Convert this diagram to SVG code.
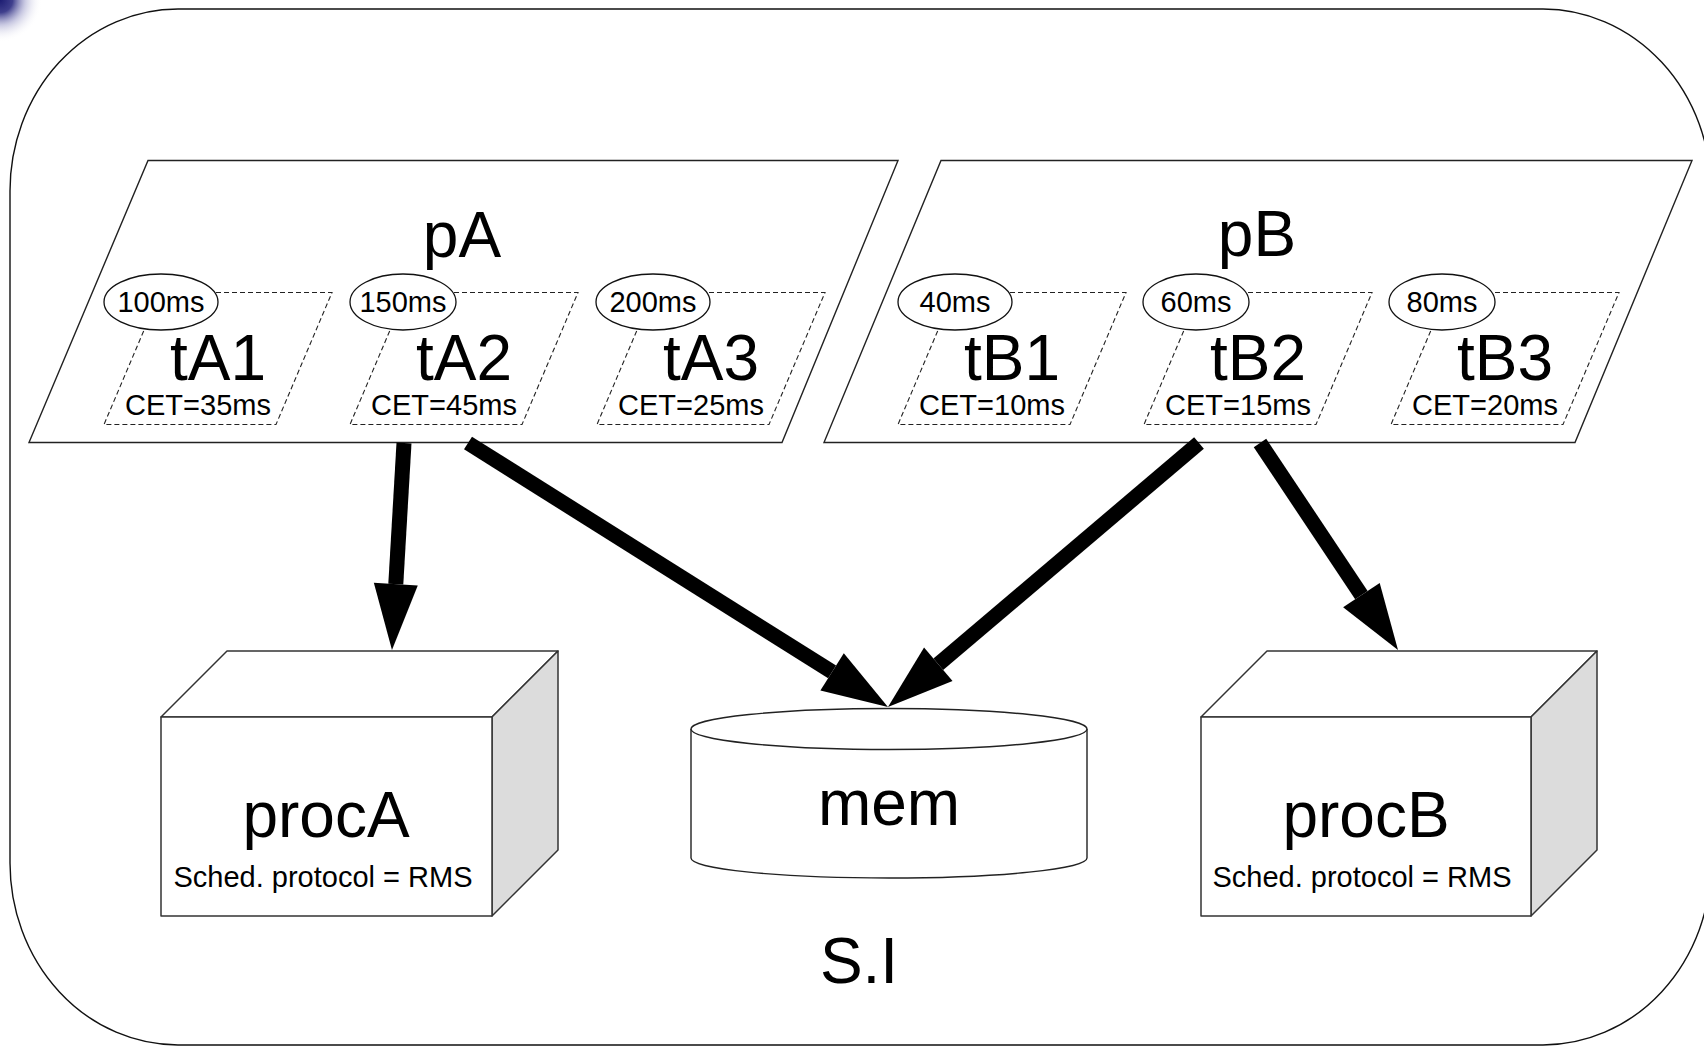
<svg xmlns="http://www.w3.org/2000/svg" width="1704" height="1047" viewBox="0 0 1704 1047">
  <defs>
    <radialGradient id="corner-glow" cx="0" cy="0" r="1" gradientUnits="objectBoundingBox">
      <stop offset="0" stop-color="#1c1c72"/>
      <stop offset="0.3" stop-color="#2a2a80" stop-opacity="0.9"/>
      <stop offset="0.6" stop-color="#8a8ac0" stop-opacity="0.45"/>
      <stop offset="1" stop-color="#ffffff" stop-opacity="0"/>
    </radialGradient>
    <marker id="head" markerUnits="userSpaceOnUse" markerWidth="66" markerHeight="44" refX="0" refY="22" orient="auto" overflow="visible">
      <path d="M0,0 L66,22 L0,44 Z" fill="#000"/>
    </marker>
    <style>
      text { font-family: "Liberation Sans", Arial, sans-serif; fill: #000; text-anchor: middle; }
      .big { font-size: 64px; }
      .small { font-size: 29px; }
      .frame { fill: #fff; stroke: #111; stroke-width: 1.4; }
      .proc { fill: #fff; stroke: #222; stroke-width: 1.4; }
      .task { fill: none; stroke: #222; stroke-width: 1.1; stroke-dasharray: 5 3; }
      .period { fill: #fff; stroke: #111; stroke-width: 1.3; }
      .box { fill: #fff; stroke: #333; stroke-width: 1.5; stroke-linejoin: round; }
      .side { fill: #dcdcdc; stroke: #333; stroke-width: 1.5; stroke-linejoin: round; }
      .cyl { fill: #fff; stroke: #222; stroke-width: 1.4; }
      .edge { stroke: #000; stroke-width: 15; fill: none; marker-end: url(#head); }
    </style>
  </defs>

  <rect width="1704" height="1047" fill="#fff"/>
  <!-- decorative glow in the top-left corner -->
  <rect x="0" y="0" width="42" height="42" fill="url(#corner-glow)"/>

  <!-- system boundary -->
  <g id="system">
    <rect class="frame" x="10" y="9" width="1701" height="1036" rx="168" ry="182"/>
    <text class="big" x="859" y="983">S.I</text>
  </g>

  <!-- process pA with its tasks -->
  <g id="pA">
    <polygon class="proc" points="148,160.5 898,160.5 782,442.5 29,442.5"/>
    <text class="big" x="462" y="257">pA</text>
  </g>
  <g id="tA1">
    <polygon class="task" points="160,292.5 332,292.5 276,424.5 104,424.5"/>
    <ellipse class="period" cx="161" cy="302" rx="57" ry="28"/>
    <text class="small" x="161" y="312">100ms</text>
    <text class="big" x="218" y="380">tA1</text>
    <text class="small" x="198" y="415">CET=35ms</text>
  </g>
  <g id="tA2">
    <polygon class="task" points="406,292.5 578,292.5 522,424.5 350,424.5"/>
    <ellipse class="period" cx="403" cy="302" rx="53" ry="28"/>
    <text class="small" x="403" y="312">150ms</text>
    <text class="big" x="464" y="380">tA2</text>
    <text class="small" x="444" y="415">CET=45ms</text>
  </g>
  <g id="tA3">
    <polygon class="task" points="653,292.5 825,292.5 769,424.5 597,424.5"/>
    <ellipse class="period" cx="653" cy="302" rx="57" ry="28"/>
    <text class="small" x="653" y="312">200ms</text>
    <text class="big" x="711" y="380">tA3</text>
    <text class="small" x="691" y="415">CET=25ms</text>
  </g>

  <!-- process pB with its tasks -->
  <g id="pB">
    <polygon class="proc" points="941,160.5 1692,160.5 1575,442.5 824,442.5"/>
    <text class="big" x="1257" y="256">pB</text>
  </g>
  <g id="tB1">
    <polygon class="task" points="954,292.5 1126,292.5 1070,424.5 898,424.5"/>
    <ellipse class="period" cx="955" cy="302" rx="57" ry="28"/>
    <text class="small" x="955" y="312">40ms</text>
    <text class="big" x="1012" y="380">tB1</text>
    <text class="small" x="992" y="415">CET=10ms</text>
  </g>
  <g id="tB2">
    <polygon class="task" points="1200,292.5 1372,292.5 1316,424.5 1144,424.5"/>
    <ellipse class="period" cx="1196" cy="302" rx="53" ry="28"/>
    <text class="small" x="1196" y="312">60ms</text>
    <text class="big" x="1258" y="380">tB2</text>
    <text class="small" x="1238" y="415">CET=15ms</text>
  </g>
  <g id="tB3">
    <polygon class="task" points="1447,292.5 1619,292.5 1563,424.5 1391,424.5"/>
    <ellipse class="period" cx="1442" cy="302" rx="53" ry="28"/>
    <text class="small" x="1442" y="312">80ms</text>
    <text class="big" x="1505" y="380">tB3</text>
    <text class="small" x="1485" y="415">CET=20ms</text>
  </g>

  <!-- processor procA -->
  <g id="procA">
    <polygon class="box" points="161,717 227,651 558,651 492,717"/>
    <polygon class="side" points="492,717 558,651 558,850 492,916"/>
    <rect class="box" x="161" y="717" width="331" height="199"/>
    <text class="big" x="326" y="837">procA</text>
    <text class="small" x="323" y="887">Sched. protocol = RMS</text>
  </g>

  <!-- shared memory -->
  <g id="mem">
    <path class="cyl" d="M691,729 L691,858 A198,20 0 0 0 1087,858 L1087,729"/>
    <ellipse class="cyl" cx="889" cy="729" rx="198" ry="20.5"/>
    <text class="big" x="889" y="825">mem</text>
  </g>

  <!-- processor procB -->
  <g id="procB">
    <polygon class="box" points="1201,717 1267,651 1597,651 1531,717"/>
    <polygon class="side" points="1531,717 1597,651 1597,850 1531,916"/>
    <rect class="box" x="1201" y="717" width="330" height="199"/>
    <text class="big" x="1366" y="837">procB</text>
    <text class="small" x="1362" y="887">Sched. protocol = RMS</text>
  </g>

  <!-- allocation arrows -->
  <g id="connectors">
    <line class="edge" x1="404" y1="443" x2="395.8" y2="584.1"/>
    <line class="edge" x1="468" y1="443" x2="832.1" y2="671.9"/>
    <line class="edge" x1="1199" y1="443" x2="938.3" y2="664.3"/>
    <line class="edge" x1="1260" y1="443" x2="1361.4" y2="595.1"/>
  </g>
</svg>
